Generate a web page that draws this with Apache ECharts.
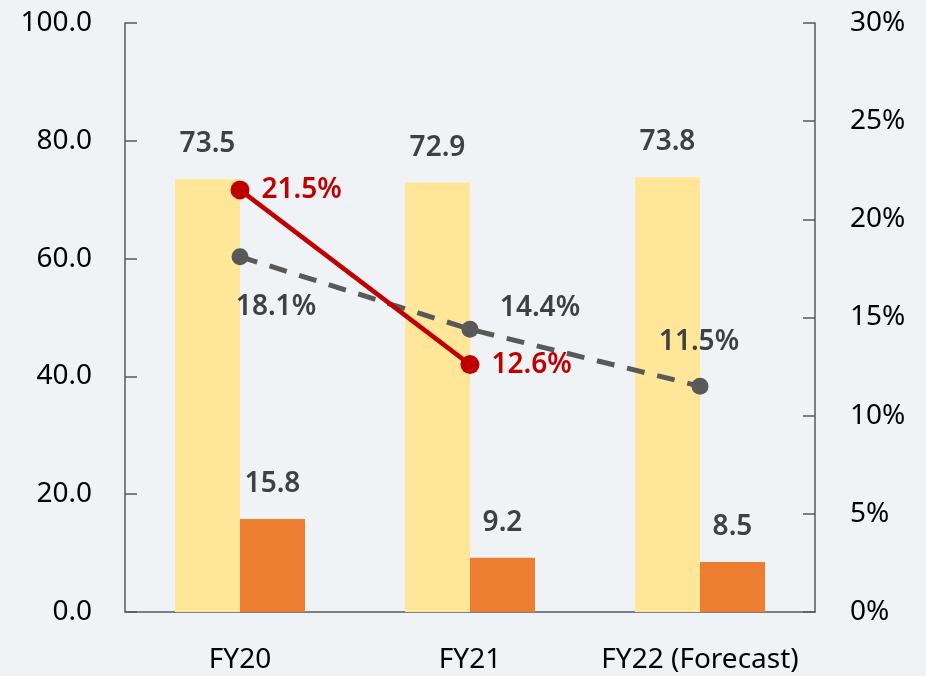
<!DOCTYPE html>
<html lang="en">
<head>
    <meta charset="UTF-8">
    <title>FY chart</title>
    <script src="https://cdn.jsdelivr.net/npm/echarts@6/dist/echarts.min.js"></script>
    <style>
        html, body { margin: 0; padding: 0; background: #eff3f5; }
        #chart { width: 926px; height: 676px; }
    </style>
</head>
<body>
<div id="chart"></div>
<script>
    var categories = ['FY20', 'FY21', 'FY22 (Forecast)'];
    var yellowBars = [73.5, 72.9, 73.8];
    var orangeBars = [15.8, 9.2, 8.5];
    var redRate = [21.5, 12.6, null];
    var grayRate = [18.1, 14.4, 11.5];

    var font = 'Noto Sans';
    var fs = 28;
    var dataWeight = 600;
    // label offsets for the dashed line points
    var grayOffsets = [[36, 50], [70, -21], [-1, -44]];

    var grayData = grayRate.map(function (v, i) {
        return { value: v, label: { offset: grayOffsets[i] } };
    });

    var option = {
        backgroundColor: '#eff3f5',
        animation: false,
        grid: { left: 125, right: 111, top: 23, bottom: 64 },
        xAxis: {
            type: 'category',
            data: categories,
            axisLine: { lineStyle: { color: '#595959', width: 1.5 } },
            axisTick: { inside: true, length: 11, lineStyle: { color: '#595959', width: 1.5 } },
            axisLabel: { color: '#000', fontSize: fs, fontFamily: font, margin: 34, interval: 0 }
        },
        yAxis: [
            {
                type: 'value', min: 0, max: 100, interval: 20,
                splitLine: { show: false },
                axisLine: { show: true, lineStyle: { color: '#595959', width: 1.5 } },
                axisTick: { show: true, inside: true, length: 12, lineStyle: { color: '#595959', width: 1.5 } },
                axisLabel: {
                    color: '#000', fontSize: fs, fontFamily: font, margin: 33,
                    formatter: function (v) { return v.toFixed(1); }
                }
            },
            {
                type: 'value', min: 0, max: 30, interval: 5,
                splitLine: { show: false },
                axisLine: { show: true, lineStyle: { color: '#595959', width: 1.5 } },
                axisTick: { show: true, inside: true, length: 12, lineStyle: { color: '#595959', width: 1.5 } },
                axisLabel: {
                    color: '#000', fontSize: fs, fontFamily: font, margin: 35,
                    formatter: '{value}%'
                }
            }
        ],
        series: [
            {
                type: 'bar', data: yellowBars, barWidth: 65, barGap: '0%',
                itemStyle: { color: '#ffe699' },
                label: { show: true, position: 'top', distance: 21, color: '#404040', fontSize: fs, fontFamily: font,
                    fontWeight: dataWeight,
                    formatter: function (p) { return p.value.toFixed(1); } }
            },
            {
                type: 'bar', data: orangeBars, barWidth: 65, barGap: '0%',
                itemStyle: { color: '#ed7d31' },
                label: { show: true, position: 'top', distance: 21, color: '#404040', fontSize: fs, fontFamily: font,
                    fontWeight: dataWeight,
                    formatter: function (p) { return p.value.toFixed(1); } }
            },
            {
                type: 'line', yAxisIndex: 1, data: grayData,
                symbol: 'circle', symbolSize: 17,
                lineStyle: { color: '#595959', width: 5, type: [18, 13] },
                itemStyle: { color: '#595959' },
                label: { show: true, position: 'inside', color: '#404040', fontSize: fs, fontFamily: font,
                    fontWeight: dataWeight,
                    formatter: function (p) { return p.value.toFixed(1) + '%'; } },
                z: 3
            },
            {
                type: 'line', yAxisIndex: 1, data: redRate,
                symbol: 'circle', symbolSize: 19,
                lineStyle: { color: '#c00000', width: 4.5 },
                itemStyle: { color: '#c00000' },
                label: { show: true, position: 'right', distance: 12, color: '#c00000', fontSize: fs, fontFamily: font,
                    fontWeight: dataWeight,
                    formatter: function (p) { return p.value.toFixed(1) + '%'; } },
                z: 4
            }
        ]
    };
    echarts.init(document.getElementById('chart')).setOption(option);
</script>
</body>
</html>
